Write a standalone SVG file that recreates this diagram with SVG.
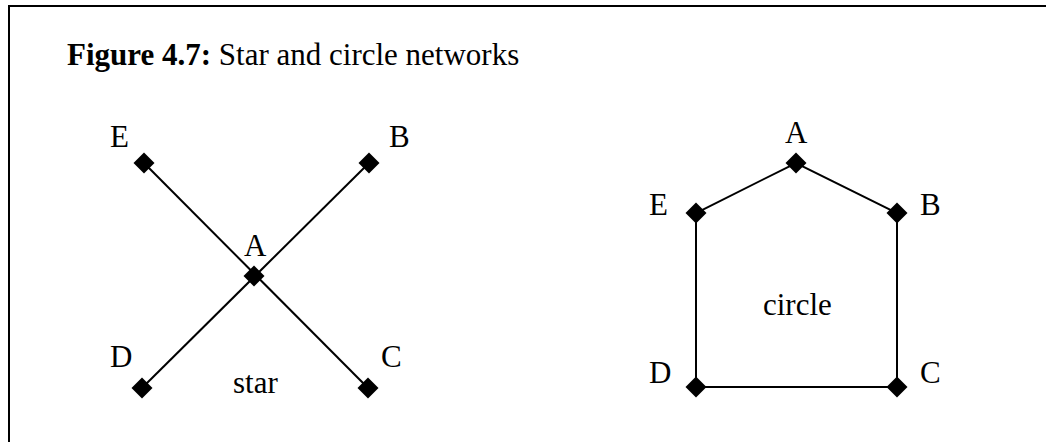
<svg xmlns="http://www.w3.org/2000/svg" width="1046" height="442" viewBox="0 0 1046 442">
<defs>
<style>
text{font-family:"Liberation Serif","Times New Roman",serif;font-size:31px;fill:#000}
.ln{stroke:#000;stroke-width:2;fill:none}
.dm{fill:#000}
</style>
<path id="dia" d="M0,-10.5 L10.5,0 L0,10.5 L-10.5,0 Z"/>
</defs>
<rect width="1046" height="442" fill="#fff"/>
<path class="ln" d="M9,442 L9,6 L1046,6"/>
<text x="67" y="65"><tspan font-weight="bold">Figure 4.7:</tspan> Star and circle networks</text>
<g id="connectors">
<line class="ln" x1="144" y1="163" x2="368" y2="388"/>
<line class="ln" x1="369" y1="163" x2="142" y2="388"/>
<polyline class="ln" points="696,387 696,213 796,163 897,213 897,387 696,387"/>
</g>
<g id="star-E"><use href="#dia" class="dm" x="144" y="163"/><text x="110" y="147">E</text></g>
<g id="star-B"><use href="#dia" class="dm" x="369" y="163"/><text x="389" y="147">B</text></g>
<g id="star-A"><use href="#dia" class="dm" x="254" y="276"/><text x="244" y="256">A</text></g>
<g id="star-D"><use href="#dia" class="dm" x="142" y="388"/><text x="110" y="367">D</text></g>
<g id="star-C"><use href="#dia" class="dm" x="368" y="388"/><text x="381" y="367">C</text></g>
<text x="233" y="393">star</text>
<g id="circle-A"><use href="#dia" class="dm" x="796" y="163"/><text x="785" y="143">A</text></g>
<g id="circle-E"><use href="#dia" class="dm" x="696" y="213"/><text x="649" y="215">E</text></g>
<g id="circle-B"><use href="#dia" class="dm" x="897" y="213"/><text x="920" y="215">B</text></g>
<g id="circle-D"><use href="#dia" class="dm" x="696" y="387"/><text x="649" y="383">D</text></g>
<g id="circle-C"><use href="#dia" class="dm" x="897" y="387"/><text x="920" y="383">C</text></g>
<text x="763" y="315">circle</text>
</svg>
